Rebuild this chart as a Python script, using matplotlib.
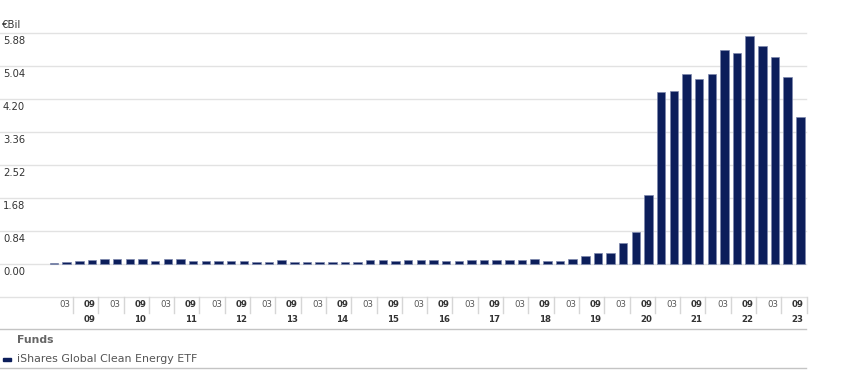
import numpy as np
import matplotlib
matplotlib.use("Agg")
import matplotlib.pyplot as plt
import matplotlib.transforms as mtransforms
from matplotlib.lines import Line2D
from matplotlib.patches import Rectangle

# ── Data: quarterly fund size, Dec 2008 .. Sep 2023 (€ billions) ──────────────
first_year = 2008
quarter_months = ["12"] + ["03", "06", "09", "12"] * 14 + ["03", "06", "09"]
fund_size = [
    0.03, 0.045, 0.08, 0.10, 0.12, 0.12, 0.12, 0.12, 0.085, 0.135,
    0.13, 0.07, 0.07, 0.07, 0.065, 0.065, 0.06, 0.06, 0.09, 0.05,
    0.06, 0.06, 0.06, 0.06, 0.06, 0.11, 0.11, 0.08, 0.10, 0.09,
    0.09, 0.085, 0.085, 0.10, 0.10, 0.10, 0.11, 0.11, 0.127, 0.076,
    0.085, 0.14, 0.20, 0.27, 0.29, 0.53, 0.81, 1.76, 4.37, 4.40,
    4.84, 4.71, 4.84, 5.46, 5.37, 5.81, 5.54, 5.28, 4.77, 3.74,
]
y_ticks = [-0.84, 0.00, 0.84, 1.68, 2.52, 3.36, 4.20, 5.04, 5.88]
series_name = "iShares Global Clean Energy ETF"
unit_label = "€Bil"

BAR_COLOR = "#0c1e5b"
GRID = "#e2e2e2"
RULE = "#c4c4c4"

W, H = 847, 384
fig = plt.figure(figsize=(W / 100, H / 100), dpi=100)
ax = fig.add_axes([0, 1 - 297 / H, 806 / W, (297 - 33) / H])

x = np.arange(len(fund_size))
ax.bar(x, fund_size, width=0.67, color=BAR_COLOR,
       edgecolor="#7d88ad", linewidth=0.5, zorder=3)

ax.set_xlim(-4.27, len(fund_size) - 0.55)
ax.set_ylim(y_ticks[0], y_ticks[-1])
for v in y_ticks:
    ax.axhline(v, color=GRID, lw=1.0, zorder=1, clip_on=False)
    if v >= 0:
        ax.annotate(f"{v:.2f}", xy=(0, v), xycoords=("axes fraction", "data"),
                    xytext=(3, -3), textcoords="offset pixels",
                    ha="left", va="top", fontsize=7.2, color="#333333")
ax.set_xticks([])
ax.set_yticks([])
for s in ax.spines.values():
    s.set_visible(False)

fig.text(2 / W, 1 - 25 / H, unit_label, fontsize=7.3, color="#333333",
         ha="left", va="center")

# ── category axis: 03 / 09 labels with separators ─────────────────────────────
trans = mtransforms.blended_transform_factory(ax.transData, fig.transFigure)
for i, m in enumerate(quarter_months):
    if m not in ("03", "09"):
        continue
    xb = i + 0.5
    ax.add_line(Line2D([xb, xb], [1 - 297 / H, 1 - 313 / H], transform=trans,
                       color="#d6d6d6", lw=1.0, clip_on=False))
    if m == "03":
        ax.text(xb - 0.22, 1 - 304.5 / H, m, transform=trans, ha="right",
                va="center", fontsize=6.2, color="#555555")
    else:
        year = first_year + (i + 1) // 4
        ax.text(xb - 0.22, 1 - 304.5 / H, m, transform=trans, ha="right",
                va="center", fontsize=6.2, color="#333333", fontweight="bold")
        ax.text(xb - 0.22, 1 - 319 / H, f"{year % 100:02d}", transform=trans,
                ha="right", va="center", fontsize=6.2, color="#333333",
                fontweight="bold")

# ── legend block ──────────────────────────────────────────────────────────────
for yy in (329, 368):
    fig.add_artist(Line2D([0, 806 / W], [1 - yy / H, 1 - yy / H],
                          color=RULE, lw=1.0))
fig.text(17 / W, 1 - 340 / H, "Funds", fontsize=7.8, fontweight="bold",
         color="#666666", ha="left", va="center")
fig.add_artist(Rectangle((3 / W, 1 - 361 / H), 8 / W, 3 / H,
                         color=BAR_COLOR, transform=fig.transFigure))
fig.text(17 / W, 1 - 359 / H, series_name, fontsize=7.9,
         color="#555555", ha="left", va="center")

fig.savefig("out.png", dpi=100)
